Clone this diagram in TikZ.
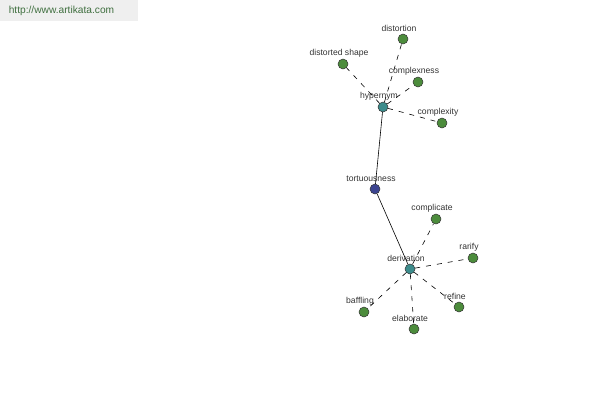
\documentclass[tikz,border=0pt]{standalone}
\usepackage{fontspec}
\setmainfont{Liberation Sans}
\definecolor{leafgreen}{HTML}{4C8C3C}
\definecolor{hubteal}{HTML}{3C8C8C}
\definecolor{rootblue}{HTML}{3C4490}
\definecolor{headgray}{HTML}{EFEFEF}
\definecolor{sitegreen}{HTML}{3F6F3F}
\definecolor{labelgray}{HTML}{333333}
\tikzset{
  wordnode/.style={circle, draw=black!80, line width=0.5pt, minimum size=10pt, inner sep=0pt},
  wordlabel/.style={text=labelgray, inner sep=1pt, label distance=0.5pt, xshift=-4pt},
  rel/.style={black, line width=0.6pt, dash pattern=on 5pt off 6pt},
  tie/.style={black, line width=0.6pt}
}
\begin{document}
\begin{tikzpicture}[x=1pt,y=-1pt,font=\fontsize{8.6}{10}\selectfont]
  \useasboundingbox (0,0) rectangle (600,400);

  % site banner
  \fill[headgray] (0,0) rectangle (138,21);
  \node[text=sitegreen, font=\fontsize{10.2}{12}\selectfont] (site) at (61.5,11) {http://www.artikata.com};

  % centre and hubs
  \node[wordnode, fill=rootblue, label={[wordlabel]90:tortuousness}] (tortuousness) at (375,189) {};
  \node[wordnode, fill=hubteal, label={[wordlabel]90:hypernym}] (hypernym) at (383,107) {};
  \node[wordnode, fill=hubteal, label={[wordlabel]90:derivation}] (derivation) at (410,269) {};

  % leaves
  \foreach \hub/\x/\y/\id/\word in {
    hypernym/403/39/distortion/distortion,
    hypernym/343/64/distortedshape/distorted shape,
    hypernym/418/82/complexness/complexness,
    hypernym/442/123/complexity/complexity,
    derivation/436/219/complicate/complicate,
    derivation/473/258/rarify/rarify,
    derivation/459/307/refine/refine,
    derivation/414/329/elaborate/elaborate,
    derivation/364/312/baffling/baffling}{
    \node[wordnode, fill=leafgreen, label={[wordlabel]90:\word}] (\id) at (\x,\y) {};
    \draw[rel] (\hub) -- (\id);
  }

  \draw[tie] (tortuousness) -- (hypernym);
  \draw[tie] (tortuousness) -- (derivation);
\end{tikzpicture}
\end{document}
